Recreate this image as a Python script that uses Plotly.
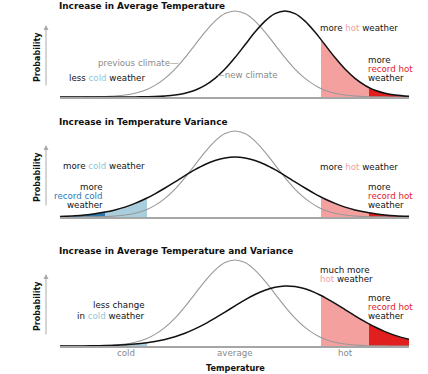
import plotly.graph_objects as go

# ---------------- data ----------------
temp_x = [-4.375, -4, -3.75, -3.5, -3.25, -3, -2.75, -2.5, -2.2, -2, -1.75, -1.5, -1.25,
          -1, -0.75, -0.5, -0.25, 0, 0.25, 0.5, 0.75, 1, 1.25, 1.5, 1.75, 2, 2.15,
          2.25, 2.5, 2.75, 3, 3.25, 3.35, 3.5, 3.75, 4, 4.35]

prev_climate = [0.0, 0.0, 0.1, 0.2, 0.4, 1.0, 2.0, 3.8, 7.6, 11.6, 18.6, 27.9, 39.4,
                52.2, 64.9, 75.9, 83.4, 86.0, 83.4, 75.9, 64.9, 52.2, 39.4, 27.9, 18.6, 11.6, 8.5,
                6.8, 3.8, 2.0, 1.0, 0.4, 0.3, 0.2, 0.1, 0.0, 0.0]

shifted_climate = [0.0, 0.0, 0.0, 0.0, 0.0, 0.0, 0.0, 0.1, 0.2, 0.4, 1.0, 2.0, 3.8,
                   6.8, 11.6, 18.6, 27.9, 39.4, 52.2, 64.9, 75.9, 83.4, 86.0, 83.4, 75.9, 64.9, 57.4,
                   52.2, 39.4, 27.9, 18.6, 11.6, 9.5, 6.8, 3.8, 2.0, 0.7]

wider_climate = [0.6, 1.3, 2.1, 3.3, 4.9, 7.1, 9.9, 13.6, 19.0, 23.2, 29.0, 35.1, 41.4,
                 47.3, 52.5, 56.5, 59.1, 60.0, 59.1, 56.5, 52.5, 47.3, 41.4, 35.1, 29.0, 23.2, 20.0,
                 18.0, 13.6, 9.9, 7.1, 4.9, 4.2, 3.3, 2.1, 1.3, 0.7]

shifted_wider_climate = [0.0, 0.1, 0.1, 0.3, 0.4, 0.7, 1.2, 1.9, 3.3, 4.5, 6.6, 9.3, 12.8,
                         17.1, 22.1, 27.8, 33.9, 40.1, 46.2, 51.5, 55.8, 58.7, 60.0, 59.4, 57.2, 53.4, 50.5,
                         48.4, 42.6, 36.4, 30.2, 24.3, 22.1, 19.0, 14.4, 10.6, 6.6]

record_cold_limit = -3.25
cold_limit = -2.2
hot_limit = 2.15
record_hot_limit = 3.35

band_labels = ["cold", "average", "hot"]
band_centers = [(record_cold_limit + cold_limit) / 2, 0, (hot_limit + record_hot_limit) / 2]

titles = ["Increase in Average Temperature",
          "Increase in Temperature Variance",
          "Increase in Average Temperature and Variance"]

# ---------------- style ----------------
W, H = 428, 374
ML, MR = 60, 19
FONT = "DejaVu Sans"
FS = 8.7
LIGHT_RED = "#f4a09f"
DARK_RED = "#e21f1f"
LIGHT_BLUE = "#a9cfdf"
DARK_BLUE = "#2b77ae"
HOT_TXT = "#f4a0a0"
COLD_TXT = "#8ec7db"
REC_HOT_TXT = "#e2201f"
REC_COLD_TXT = "#2c7bb6"
GRAY_LINE = "#999999"
GRAY_TXT = "#8a8a8a"

baselines = [97, 217, 346]   # pixel rows of each panel's baseline
YMAX = 90

fig = go.Figure()


def segment(lo, hi):
    return [i for i, v in enumerate(temp_x) if lo - 1e-9 <= v <= hi + 1e-9]


def axes(k):
    sfx = "" if k == 0 else str(k + 1)
    return "x" + sfx, "y" + sfx


def add_fill(curve, lo, hi, color, k):
    idx = segment(lo, hi)
    xa, ya = axes(k)
    fig.add_trace(go.Scatter(x=[temp_x[i] for i in idx], y=[curve[i] for i in idx],
                             mode="lines", line=dict(width=0, shape="spline"),
                             fill="tozeroy", fillcolor=color, hoverinfo="skip",
                             xaxis=xa, yaxis=ya))


def add_curve(curve, color, width, k):
    xa, ya = axes(k)
    fig.add_trace(go.Scatter(x=temp_x, y=curve, mode="lines",
                             line=dict(color=color, width=width, shape="spline"),
                             hoverinfo="skip", xaxis=xa, yaxis=ya))


x_lo, x_hi = temp_x[0], temp_x[-1]

# panel 1
add_fill(shifted_climate, hot_limit, record_hot_limit, LIGHT_RED, 0)
add_fill(shifted_climate, record_hot_limit, x_hi, DARK_RED, 0)
add_curve(prev_climate, GRAY_LINE, 1.1, 0)
add_curve(shifted_climate, "#111111", 1.5, 0)
# panel 2
add_fill(wider_climate, x_lo, record_cold_limit, DARK_BLUE, 1)
add_fill(wider_climate, record_cold_limit, cold_limit, LIGHT_BLUE, 1)
add_fill(wider_climate, hot_limit, record_hot_limit, LIGHT_RED, 1)
add_fill(wider_climate, record_hot_limit, x_hi, DARK_RED, 1)
add_curve(prev_climate, GRAY_LINE, 1.1, 1)
add_curve(wider_climate, "#111111", 1.5, 1)
# panel 3
add_fill(shifted_wider_climate, x_lo, cold_limit, LIGHT_BLUE, 2)
add_fill(shifted_wider_climate, hot_limit, record_hot_limit, LIGHT_RED, 2)
add_fill(shifted_wider_climate, record_hot_limit, x_hi, DARK_RED, 2)
add_curve(prev_climate, GRAY_LINE, 1.1, 2)
add_curve(shifted_wider_climate, "#111111", 1.5, 2)

layout = dict(width=W, height=H, margin=dict(l=ML, r=MR, t=0, b=0),
              paper_bgcolor="white", plot_bgcolor="rgba(0,0,0,0)", showlegend=False,
              font=dict(family=FONT, size=FS, color="#111111"))
for k, base in enumerate(baselines):
    xa, ya = axes(k)
    sfx = xa[1:]
    layout["xaxis" + sfx] = dict(range=[x_lo, x_hi], anchor=ya, showline=True,
                                 linecolor="#a6a6a6", linewidth=1.5, showticklabels=False,
                                 ticks="", showgrid=False, zeroline=False, fixedrange=True)
    layout["yaxis" + sfx] = dict(range=[0, YMAX], visible=False, fixedrange=True,
                                 domain=[(H - base) / H, (H - base + YMAX) / H])
fig.update_layout(**layout)

PW = W - ML - MR


def px2paper(px, py):
    return (px - ML) / PW, (H - py) / H


def xdata2px(v):
    return ML + (v - x_lo) / (x_hi - x_lo) * PW


def note(px, py, text, anchor="left", size=FS, color="#111111", angle=0):
    x, y = px2paper(px, py)
    fig.add_annotation(x=x, y=y, xref="paper", yref="paper", text=text, showarrow=False,
                       xanchor=anchor, yanchor="middle", textangle=angle,
                       borderpad=0, font=dict(family=FONT, size=size, color=color))


def col(t, c):
    return '<span style="color:%s">%s</span>' % (c, t)


for k, base in enumerate(baselines):
    note(58, base - 91 if k == 0 else base - 95, "<b>%s</b>" % titles[k], size=8.9)
    note(37, base - 40, "<b>Probability</b>", anchor="center", size=8, angle=-90)
    tx, ty = px2paper(46, base - 72)
    fig.add_annotation(x=tx, y=ty, xref="paper", yref="paper", text="", showarrow=True,
                       ax=0, ay=62, arrowhead=2, arrowsize=1, arrowwidth=1,
                       arrowcolor="#aaaaaa")

# panel 1 texts
b = baselines[0]
note(180, b - 34, "previous climate\u2014", anchor="right", color=GRAY_TXT)
note(215, b - 22, "\u2014new climate", anchor="left", color=GRAY_TXT)
note(68, b - 19, "less %s weather" % col("cold", COLD_TXT))
note(319, b - 69, "more %s weather" % col("hot", HOT_TXT))
note(367, b - 37, "more")
note(367, b - 28, col("record hot", REC_HOT_TXT))
note(367, b - 19, "weather")

# panel 2 texts
b = baselines[1]
note(62, b - 51, "more %s weather" % col("cold", COLD_TXT))
note(104, b - 30, "more", anchor="right")
note(104, b - 21, col("record cold", REC_COLD_TXT), anchor="right")
note(104, b - 12, "weather", anchor="right")
note(319, b - 50, "more %s weather" % col("hot", HOT_TXT))
note(367, b - 30, "more")
note(367, b - 21, col("record hot", REC_HOT_TXT))
note(367, b - 12, "weather")

# panel 3 texts
b = baselines[2]
note(146, b - 41, "less change", anchor="right")
note(146, b - 30, "in %s weather" % col("cold", COLD_TXT), anchor="right")
note(319, b - 76, "much more")
note(319, b - 67, "%s weather" % col("hot", HOT_TXT))
note(367, b - 48, "more")
note(367, b - 39, col("record hot", REC_HOT_TXT))
note(367, b - 30, "weather")

for lab, c in zip(band_labels, band_centers):
    note(xdata2px(c), b + 7, lab, anchor="center", color=GRAY_TXT)
note(xdata2px(0), b + 22, "<b>Temperature</b>", anchor="center", size=8.2)

fig.write_html("out.html", config={"displayModeBar": False},
               post_script="document.body.style.margin='0';document.body.style.padding='0';")
